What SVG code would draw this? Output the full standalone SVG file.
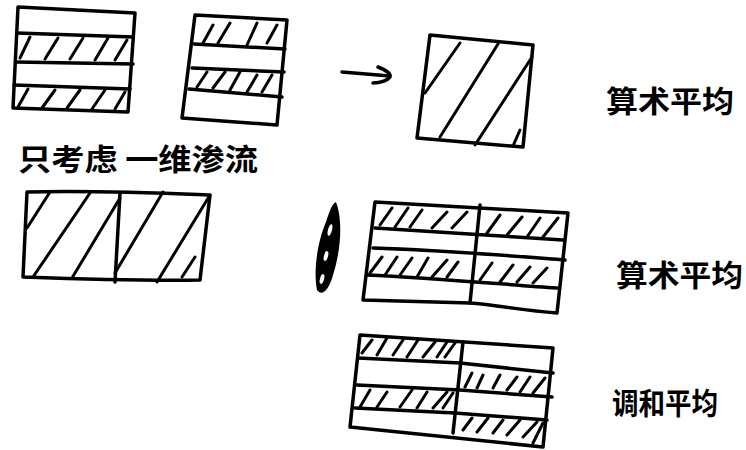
<svg xmlns="http://www.w3.org/2000/svg" width="746" height="450" viewBox="0 0 746 450">
<style>
.o{fill:none;stroke:#000;stroke-width:3.5;stroke-linecap:round;stroke-linejoin:round}
.h{fill:none;stroke:#000;stroke-width:3;stroke-linecap:round}
.t{font-family:"Noto Sans CJK SC","Noto Sans CJK JP",sans-serif;font-size:30px;font-weight:bold;fill:#000}
</style>
<rect width="746" height="450" fill="#fff"/>
<g id="boxA">
<path class="o" d="M18,7 L135,13 L128,112 L13,108 Z"/>
<path class="o" d="M17,33 L133,37 M16,62 L133,64 M14,85 L130,89"/>
<path class="h" d="M20,58 L30,37 M45,59 L58,38 M70,59 L83,38 M95,60 L108,38 M115,60 L127,40 M18,107 L28,89 M42,108 L55,90 M67,108 L80,90 M92,109 L105,90 M115,109 L125,92"/>
</g>
<g id="boxB">
<path class="o" d="M195,15 L287,20 L277,125 L182,118 Z"/>
<path class="o" d="M194,44 L285,49 M192,68 L284,72 M189,89 L282,97"/>
<path class="h" d="M203,43 L213,25 M218,43 L230,23 M247,45 L257,23 M267,43 L277,25 M197,87 L207,72 M213,88 L225,72 M230,90 L240,72 M247,92 L257,75 M262,92 L272,75"/>
</g>
<g id="boxC">
<path class="o" d="M430,35 L533,45 L523,147 L417,138 Z"/>
<path class="h" d="M460,43 L425,93 M498,44 L440,137 M532,57 L475,145 M520,130 L513,146"/>
</g>
<g id="label1">
<text class="t" x="606" y="112" textLength="128" lengthAdjust="spacingAndGlyphs">算术平均</text>
</g>
<g id="caption">
<text class="t" x="18" y="170" textLength="240" lengthAdjust="spacingAndGlyphs">只考虑 一维渗流</text>
</g>
<g id="boxD">
<path class="o" d="M27,192 C90,190 160,193 210,195 L200,280 C140,281 80,279 23,277 Z"/>
<path class="o" d="M120,193 L115,282"/>
<path class="h" d="M50,192 L27,228 M90,193 L33,277 M120,198 L72,278 M163,192 L115,273 M210,195 L157,282 M195,257 L182,277"/>
</g>
<g id="blob">
<path d="M336,202 C343,220 341,250 333,275 C329,290 322,297 317,290 C313,270 318,240 326,222 C330,210 332,204 336,202 Z" fill="#000"/>
<ellipse cx="330" cy="230" rx="2" ry="6" fill="#fff" transform="rotate(15 330 230)"/>
<ellipse cx="326" cy="256" rx="2" ry="5" fill="#fff" transform="rotate(15 326 256)"/>
<ellipse cx="322" cy="279" rx="2" ry="5" fill="#fff" transform="rotate(15 322 279)"/>
</g>
<g id="gridE">
<path class="o" d="M375,202 L568,213 L557,313 C520,310 480,303 470,303 L363,300 Z"/>
<path class="o" d="M480,205 L470,303"/>
<path class="o" d="M375,228 C440,232 500,236 563,240 M373,248 C440,250 500,255 565,260 M367,275 C430,278 500,284 557,288"/>
<path class="h" d="M380,225 L392,208 M395,227 L408,208 M410,227 L422,210 M432,228 L447,212 M452,228 L467,212 M487,233 L500,215 M507,235 L522,217 M527,237 L540,218 M543,237 L558,218 M370,273 L382,257 M385,275 L397,257 M400,275 L412,258 M417,277 L428,258 M432,277 L447,260 M447,277 L458,262 M480,280 L492,263 M500,282 L513,265 M517,282 L530,267 M533,283 L547,268"/>
</g>
<g id="label2">
<text class="t" x="616" y="286" textLength="127" lengthAdjust="spacingAndGlyphs">算术平均</text>
</g>
<g id="gridF">
<path class="o" d="M360,335 L553,348 L543,447 L350,427 Z"/>
<path class="o" d="M463,342 L453,433"/>
<path class="o" d="M358,358 L460,363 L553,373 M357,385 L460,390 L552,397 M355,408 L455,413 L547,420"/>
<path class="h" d="M362,353 L372,340 M377,355 L387,338 M393,355 L403,340 M407,357 L418,340 M423,357 L435,342 M437,357 L447,342 M445,357 L455,343 M360,407 L370,390 M377,407 L387,392 M400,407 L412,390 M417,408 L427,392 M433,408 L447,392 M443,408 L453,393 M465,387 L472,373 M477,388 L483,375 M493,388 L500,375 M507,390 L517,377 M520,392 L530,377 M533,393 L545,378 M463,430 L472,418 M477,432 L488,418 M493,433 L503,420 M507,435 L520,420 M523,437 L537,422 M533,443 L543,423"/>
</g>
<g id="label3">
<text class="t" x="612" y="414" textLength="106" lengthAdjust="spacingAndGlyphs">调和平均</text>
</g>
<g id="connectors">
<path class="o" d="M342,72 L390,76 M378,67 C386,70 391,74 390,77 C388,80 381,83 373,83"/>
</g>
</svg>
